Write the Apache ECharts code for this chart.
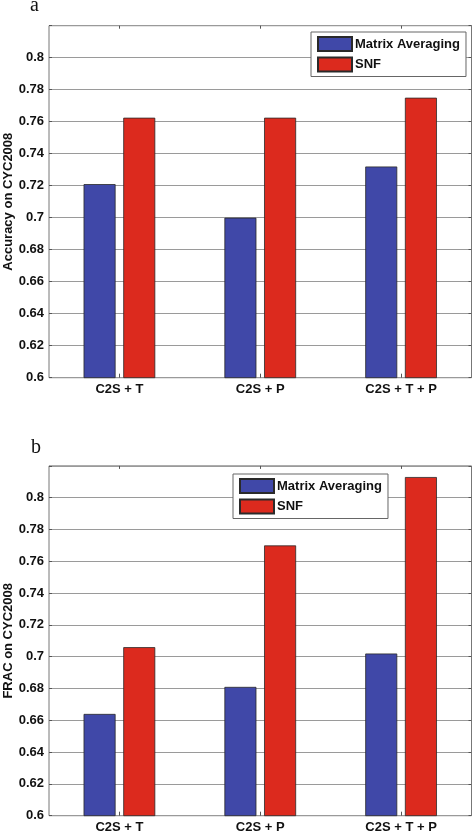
<!DOCTYPE html>
<html>
<head>
<meta charset="utf-8">
<script src="https://cdn.jsdelivr.net/npm/echarts@6/dist/echarts.min.js"></script>
<style>
html,body{margin:0;padding:0;background:#fff;}
#c{width:473px;height:831px;}
</style>
</head>
<body>
<div id="c"></div>
<script>
// ---- data ----
const categories = ['C2S + T', 'C2S + P', 'C2S + T + P'];
const seriesNames = ['Matrix Averaging', 'SNF'];
const accuracyMatrixAveraging = [0.721, 0.700, 0.732];
const accuracySNF = [0.7625, 0.7625, 0.775];
const fracMatrixAveraging = [0.664, 0.681, 0.702];
const fracSNF = [0.706, 0.770, 0.813];
const panelLabels = ['a', 'b'];
const yAxisNames = ['Accuracy on CYC2008', 'FRAC on CYC2008'];

const BLUE = '#4048a8';
const RED = '#dc2a1e';
const FONT = 'Liberation Sans, Arial, Helvetica, sans-serif';

const chart = echarts.init(document.getElementById('c'));

const grids = [
  {left: 49, right: 1.5, top: 25.7, height: 352},
  {left: 49, right: 1.5, top: 465.9, height: 349.8}
].map(g => Object.assign(g, {show: true, borderColor: '#777', borderWidth: 1, backgroundColor: '#fff', containLabel: false, outerBoundsMode: 'none'}));

const xAxes = [];
const yAxes = [];
[0, 1].forEach(i => {
  xAxes.push({
    type: 'category', gridIndex: i, position: 'bottom', data: categories,
    axisLine: {show: false},
    axisTick: {show: true, inside: true, alignWithLabel: true, length: 4, lineStyle: {color: '#555'}},
    axisLabel: {color: '#111', fontFamily: FONT, fontWeight: 'bold', fontSize: 13, margin: 5}
  });
  xAxes.push({
    type: 'category', gridIndex: i, position: 'top', data: categories,
    axisLine: {show: false},
    axisTick: {show: true, inside: true, alignWithLabel: true, length: 3, lineStyle: {color: '#555'}},
    axisLabel: {show: false}
  });
  yAxes.push({
    type: 'value', gridIndex: i, position: 'left', min: 0.6, max: 0.82, interval: 0.02,
    name: yAxisNames[i], nameLocation: 'middle', nameGap: 34, nameMoveOverlap: false,
    nameTextStyle: {color: '#111', fontFamily: FONT, fontWeight: 'bold', fontSize: 13},
    axisLine: {show: false},
    axisTick: {show: true, inside: true, length: 3, lineStyle: {color: '#555'}},
    axisLabel: {
      color: '#111', fontFamily: FONT, fontWeight: 'bold', fontSize: 13, margin: 5,
      formatter: v => (v > 0.81 ? '' : String(+v.toFixed(2)))
    },
    splitLine: {show: true, lineStyle: {color: '#9a9a9a', width: 1}}
  });
  yAxes.push({
    type: 'value', gridIndex: i, position: 'right', min: 0.6, max: 0.82, interval: 0.02,
    axisLine: {show: false},
    axisTick: {show: true, inside: true, length: 3, lineStyle: {color: '#555'}},
    axisLabel: {show: false},
    splitLine: {show: false}
  });
});

function bar(name, data, color, gi) {
  return {
    type: 'bar', name: name, data: data, xAxisIndex: gi * 2, yAxisIndex: gi * 2,
    barWidth: 32, barGap: '24%',
    itemStyle: {color: color, borderColor: '#2a2a2a', borderWidth: 0.8},
    emphasis: {disabled: true}
  };
}

const legendCommon = {
  orient: 'vertical', icon: 'rect', itemWidth: 34, itemHeight: 14, itemGap: 4.5,
  padding: [4, 6, 4, 6], borderColor: '#666', borderWidth: 1, backgroundColor: '#fff',
  data: seriesNames,
  textStyle: {color: '#111', fontFamily: FONT, fontWeight: 'bold', fontSize: 13, padding: [0, 0, 0, -2]}
};

chart.setOption({
  backgroundColor: '#fff',
  animation: false,
  grid: grids,
  xAxis: xAxes,
  yAxis: yAxes,
  legend: [
    Object.assign({left: 311, top: 32, width: 157}, legendCommon),
    Object.assign({left: 233, top: 474, width: 156}, legendCommon)
  ],
  graphic: [
    {type: 'text', left: 30, top: -4, style: {text: panelLabels[0], font: '20px "Liberation Serif", serif', fill: '#111'}},
    {type: 'text', left: 31, top: 438, style: {text: panelLabels[1], font: '20px "Liberation Serif", serif', fill: '#111'}}
  ],
  series: [
    bar(seriesNames[0], accuracyMatrixAveraging, BLUE, 0),
    bar(seriesNames[1], accuracySNF, RED, 0),
    bar(seriesNames[0], fracMatrixAveraging, BLUE, 1),
    bar(seriesNames[1], fracSNF, RED, 1)
  ]
});
</script>
</body>
</html>
